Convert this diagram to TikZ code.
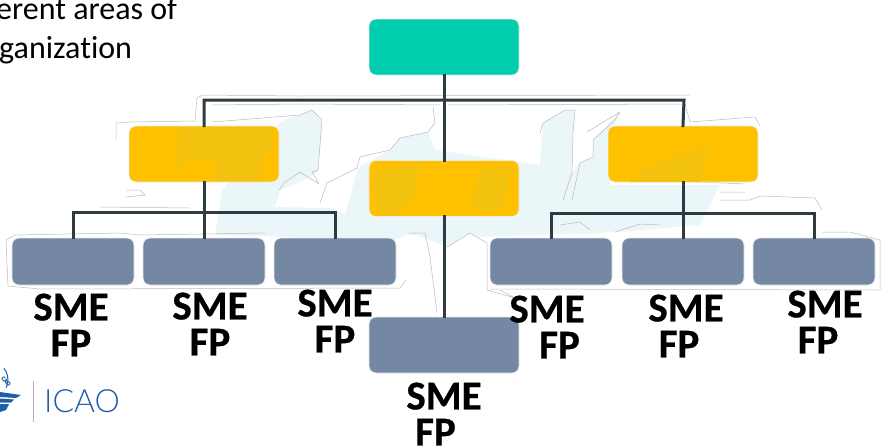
\documentclass[tikz,border=0pt]{standalone}
\usepackage{fontspec}
\setmainfont[Ligatures=CommonOff,BoldFeatures={FakeBold=0.6}]{Carlito}
\newfontfamily\logofont{Lato Light}
\definecolor{teal1}{HTML}{00CCAE}
\definecolor{amber}{HTML}{FFC000}
\definecolor{amberdark}{HTML}{F3C20E}
\definecolor{slate}{HTML}{7487A3}
\definecolor{line1}{HTML}{2F3B40}
\definecolor{icao}{HTML}{1F5FA8}
\definecolor{wm}{HTML}{EBF6F8}
\tikzset{
  box/.style={draw=white!92!black,line width=0.8pt,rounded corners=7pt,minimum width=150pt,minimum height=56pt,inner sep=0pt},
  topbox/.style={box,fill=teal1},
  midbox/.style={box,fill=amber},
  leafbox/.style={box,fill=slate,minimum width=122pt,minimum height=47pt},
  bottombox/.style={box,fill=slate},
  wire/.style={draw=line1,line width=3pt,line cap=rect},
  smelabel/.style={font=\fontsize{41}{36}\selectfont\bfseries,align=center,inner sep=0pt,text=black},
  bodytext/.style={font=\fontsize{32}{38}\selectfont,anchor=base west,inner sep=0pt,text=black},
  contour/.style={draw=black!27,line width=0.5pt,line join=round}
}
\begin{document}
\begin{tikzpicture}[x=1pt,y=-1pt]
\useasboundingbox (0,0) rectangle (885,445);
% pale watermark
\fill[wm] (280,122) -- (312,110) -- (322,122) -- (318,172) -- (300,182) -- (280,190) -- (275,207) -- (330,208) -- (345,215) -- (358,168) -- (390,150) -- (400,138) -- (428,132) -- (435,150) -- (540,165) -- (543,123) -- (565,110) -- (575,110) -- (573,133) -- (572,173) -- (580,163) -- (593,157) -- (593,140) -- (620,112) -- (615,124) -- (610,185) -- (720,185) -- (700,225) -- (620,232) -- (480,237) -- (470,233) -- (447,247) -- (430,240) -- (408,233) -- (395,240) -- (215,235) -- (222,190) -- cycle;
% contour lines of the watermark
\draw[contour] (116,140) -- (116,123) -- (130,122) -- (195,121) -- (197,98) -- (203,95) -- (300,96) -- (690,95);
\draw[contour] (212,105) -- (300,104) -- (440,105);
\draw[contour] (448,105) -- (685,104) -- (690,122) -- (755,117) -- (760,126);
\draw[contour] (212,122) -- (300,115) -- (312,110) -- (322,120) -- (318,170) -- (312,172) -- (319,184) -- (300,172) -- (285,182) -- (279,190);
\draw[contour] (433,107) -- (435,123) -- (428,132) -- (400,138) -- (390,150) -- (360,157) -- (357,168) -- (327,183) -- (320,203);
\draw[contour] (540,133) -- (543,123) -- (565,110) -- (575,110) -- (573,133) -- (572,173) -- (563,200);
\draw[contour] (587,132) -- (620,112) -- (615,120) -- (593,140) -- (593,157) -- (580,163) -- (572,200);
\draw[contour] (447,247) -- (470,233) -- (487,243) -- (487,290) -- (515,298) -- (500,290);
\draw[contour] (408,233) -- (425,233) -- (430,257) -- (437,313);
\draw[contour] (8,286) -- (6,240) -- (15,235) -- (120,233) -- (140,235) -- (265,233);
\draw[contour] (8,286) -- (40,289) -- (400,288) -- (406,280);
\draw[contour] (490,289) -- (880,290) -- (880,240) -- (850,232) -- (822,232);
\draw[contour] (126,190) -- (140,190) -- (145,195) -- (126,197);
\draw[contour] (100,207) -- (190,208);
\draw[contour] (720,200) -- (750,200) -- (760,196) -- (815,198) -- (822,210);
\draw[contour] (700,182) -- (745,184) (720,192) -- (745,192);
\draw[contour] (560,225) -- (580,222) -- (590,230) (615,232) -- (640,224) -- (660,225);
% nodes
\node[topbox] (top) at (444,47) {};
\node[midbox] (left) at (204,154) {};
\node[midbox] (mid) at (444,188.5) {};
\node[midbox] (right) at (683,154) {};
\node[leafbox] (l1) at (73,261.5) {};
\node[leafbox] (l2) at (204,261.5) {};
\node[leafbox] (l3) at (335,261.5) {};
\node[leafbox] (r1) at (551,261.5) {};
\node[leafbox] (r2) at (683,261.5) {};
\node[leafbox] (r3) at (814,261.5) {};
\node[bottombox] (bot) at (444,345) {};
% faint shading inside the amber boxes
\fill[amberdark] (178,127) -- (272,127) -- (272,150) -- (262,160) -- (262,181) -- (215,181) -- (215,160) -- (190,160) -- (177,170) -- cycle;
\fill[amberdark] (375,170) -- (420,163) -- (415,195) -- (400,215) -- (380,215) -- (372,190) -- cycle;
\fill[amberdark] (480,170) -- (510,165) -- (505,210) -- (470,210) -- cycle;
\fill[amberdark] (640,170) -- (708,145) -- (700,182) -- (630,182) -- cycle;
% connectors
\coordinate (hl) at (204,100);
\coordinate (hr) at (684,100);
\coordinate (bl) at (204,212);
\coordinate (br) at (683,213);
\draw[wire] (top.south) -- (mid.north);
\draw[wire] (mid.south) -- (bot.north);
\draw[wire] (left.north) -- (hl) -- (hr) -- (right.north);
\draw[wire] (left.south) -- (bl);
\draw[wire] (right.south) -- (br);
\draw[wire] (l1.north) |- (bl) -| (l3.north);
\draw[wire] (bl) -- (l2.north);
\draw[wire] (r1.north) |- (br) -| (r3.north);
\draw[wire] (br) -- (r2.north);
% labels
\node[smelabel] (s1) at (71,325) {SME\\FP};
\node[smelabel] (s2) at (210,324) {SME\\FP};
\node[smelabel] (s3) at (335,321) {SME\\FP};
\node[smelabel] (s4) at (547,327) {SME\\\hspace*{25pt}FP};
\node[smelabel] (s5) at (686,326) {SME\\\hspace*{-14pt}FP};
\node[smelabel] (s6) at (825,322) {SME\\\hspace*{-14pt}FP};
\node[smelabel] (s7) at (444,414) {SME\\\hspace*{-17pt}FP};
% body text
\node[bodytext] (t1) at (-4,19) {erent areas of};
\node[bodytext] (t2) at (-1,58) {ganization};
% logo
\draw[black!30,line width=1pt] (33,381) -- (33,422);
\node[font=\fontsize{32}{32}\logofont,text=icao,anchor=west,inner sep=0pt] (icaotext) at (44,401) {ICAO};
\draw[icao,line width=1pt] (6,388) arc (40:-60:8 and 13);
\fill[icao] (0,392) -- (21,395) -- (16,398) -- (0,397) -- cycle;
\fill[icao] (0,398.5) -- (14,399.5) -- (11,402.5) -- (0,402.5) -- cycle;
\fill[icao] (0,404) -- (9,404) -- (6,410) -- (0,412) -- cycle;
\node[font=\fontsize{6}{6}\selectfont\bfseries,text=icao,rotate=-45,inner sep=0pt] (seal) at (6,381) {CAO};
\end{tikzpicture}
\end{document}
